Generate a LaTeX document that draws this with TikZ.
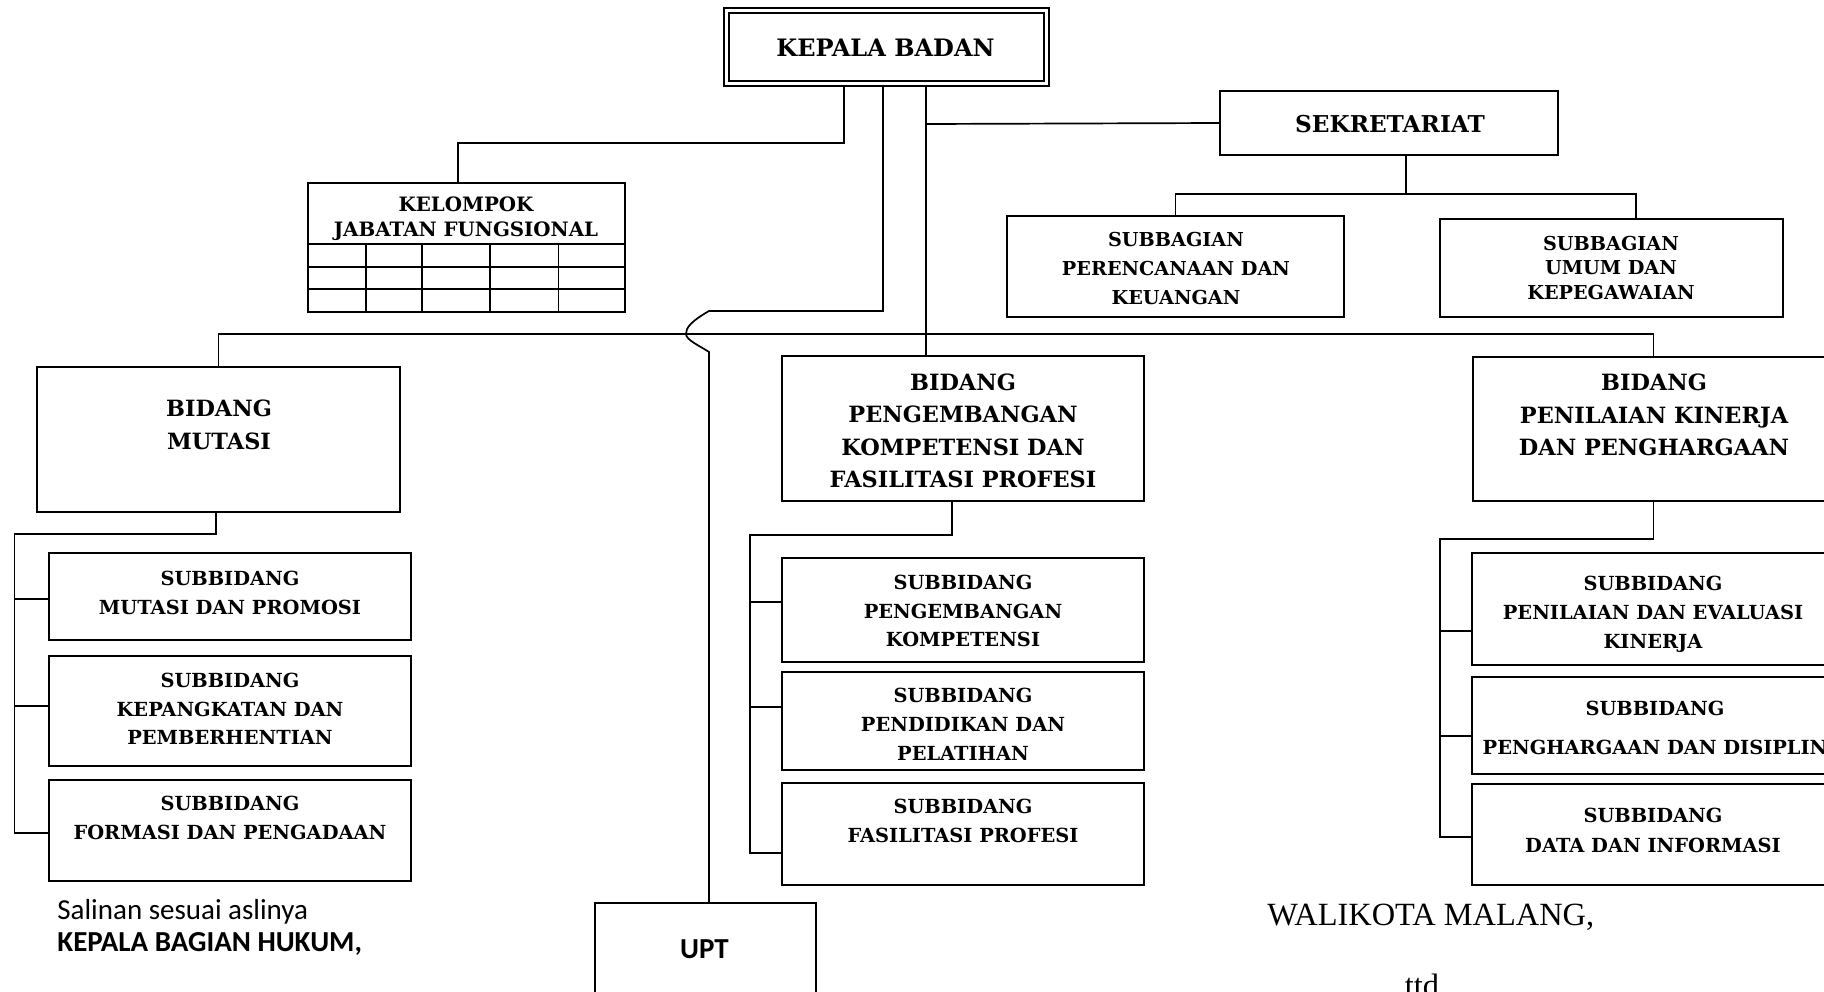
\documentclass[tikz,border=0pt]{standalone}
\usepackage{fontspec}
\setmainfont{DejaVu Serif}
\newfontfamily\calfont{Carlito}
\newfontfamily\walfont{Liberation Serif}
\usetikzlibrary{fit}

\tikzset{
  box/.style={draw, line width=1pt, inner sep=0pt},
  conn/.style={line width=0.85pt},
  lbl/.style={inner sep=0pt, align=center},
  kbtext/.style={lbl, font=\fontsize{12}{14}\selectfont\bfseries},
  sektext/.style={lbl, font=\fontsize{11.6}{14}\selectfont\bfseries},
  bidtext/.style={lbl, font=\fontsize{11.2}{16.2}\selectfont\bfseries},
  bagtext/.style={lbl, font=\fontsize{9.6}{14.5}\selectfont\bfseries},
  subtext/.style={lbl, font=\fontsize{9.7}{14.4}\selectfont\bfseries},
  foot/.style={inner sep=0pt, font=\fontsize{14.5}{17}\selectfont\calfont}
}

\begin{document}
\begin{tikzpicture}[x=0.5pt,y=-0.5pt]
\useasboundingbox (0,0) rectangle (1824,991);
\clip (0,0) rectangle (1824,991);

% kepala badan
\node[box, double, double distance=1.6pt, line width=0.8pt, outer sep=1.6pt,
  fit={(726.5,10.5) (1046.3,83.3)}] (kb) {};
\node[kbtext] (kbt) at (885.5,48) {KEPALA BADAN};

% sekretariat
\node[box, fit={(1220,91) (1558,155)}] (sek) {};
\node[sektext] (sekt) at (1390,124) {SEKRETARIAT};
\node[box, fit={(1007,216) (1344,317)}] (sp) {};
\node[bagtext] (spt) at (1176,269) {SUBBAGIAN\\PERENCANAAN DAN\\KEUANGAN};
\node[box, fit={(1440,219) (1783,317)}] (su) {};
\node[bagtext, font=\fontsize{9.6}{12.25}\selectfont\bfseries] (sut) at (1611,268)
  {SUBBAGIAN\\UMUM DAN\\KEPEGAWAIAN};

% kelompok jabatan fungsional
\node[box, fit={(308,183) (625,312)}] (kjf) {};
\node[bagtext, font=\fontsize{9.9}{12.5}\selectfont\bfseries] (kjft) at (466,218.5)
  {KELOMPOK\\JABATAN FUNGSIONAL};
\foreach \y in {244,267,289} \draw[line width=1pt] (308,\y) -- (625,\y);
\foreach \x in {366,422,490,558.5} \draw[line width=0.8pt] (\x,244) -- (\x,312);

% bidang
\node[box, fit={(37,367) (400,512)}] (bm) {};
\node[bidtext] (bmt) at (219,425) {BIDANG\\MUTASI};
\node[box, fit={(782,356) (1144,501)}] (bp) {};
\node[bidtext] (bpt) at (963,431) {BIDANG\\PENGEMBANGAN\\KOMPETENSI DAN\\FASILITASI PROFESI};
\node[box, fit={(1473,357) (1834,501)}] (bk) {};
\node[bidtext] (bkt) at (1654,415) {BIDANG\\PENILAIAN KINERJA\\DAN PENGHARGAAN};

% subbidang mutasi
\node[box, fit={(49,553) (411,640)}] (m1) {};
\node[subtext] (m1t) at (230,592.7) {SUBBIDANG\\MUTASI DAN PROMOSI};
\node[box, fit={(49,656) (411,766)}] (m2) {};
\node[subtext] (m2t) at (230,708.8) {SUBBIDANG\\KEPANGKATAN DAN\\PEMBERHENTIAN};
\node[box, fit={(49,780) (411,881)}] (m3) {};
\node[subtext] (m3t) at (230,818) {SUBBIDANG\\FORMASI DAN PENGADAAN};

% subbidang pengembangan
\node[box, fit={(782,558) (1144,662)}] (p1) {};
\node[subtext] (p1t) at (963,611) {SUBBIDANG\\PENGEMBANGAN\\KOMPETENSI};
\node[box, fit={(782,672) (1144,770)}] (p2) {};
\node[subtext] (p2t) at (963,724) {SUBBIDANG\\PENDIDIKAN DAN\\PELATIHAN};
\node[box, fit={(782,783) (1144,885)}] (p3) {};
\node[subtext] (p3t) at (963,821) {SUBBIDANG\\FASILITASI PROFESI};

% subbidang penilaian
\node[box, fit={(1472,553) (1834,665)}] (k1) {};
\node[subtext] (k1t) at (1653,614.6) {SUBBIDANG\\PENILAIAN DAN EVALUASI\\KINERJA};
\node[box, fit={(1472,677) (1834,774)}] (k2) {};
\node[subtext, font=\fontsize{9.7}{19.25}\selectfont\bfseries] (k2t) at (1655,728)
  {SUBBIDANG\\PENGHARGAAN DAN DISIPLIN};
\node[box, fit={(1472,784) (1834,885)}] (k3) {};
\node[subtext, font=\fontsize{9.7}{15}\selectfont\bfseries] (k3t) at (1653,830.5)
  {SUBBIDANG\\DATA DAN INFORMASI};

% upt
\node[box, fit={(595,903) (816,1010)}] (upt) {};
\node[foot, font=\fontsize{14.5}{17}\selectfont\calfont\bfseries, anchor=base] (uptt) at (704.5,958) {UPT};

% garis
\draw[conn] (kb.south -| 844,0) |- (458,143) -- (kjf.north -| 458,0);
\draw[conn] (kb.south -| 883,0) |- (709,311)
  .. controls (690,322) and (686,328) .. (686,334)
  .. controls (686,340) and (700,346) .. (709,352) -- (upt.north -| 709,0);
\draw[conn] (kb.south -| 926,0) -- (bp.north -| 926,0);
\draw[conn] (926,124) -- (sek.west);
\draw[conn] (sek.south -| 1406,0) -- (1406,194);
\draw[conn] (sp.north) |- (1636,194) -- (su.north -| 1636,0);
\draw[conn] (bm.north) |- (bk.north |- 0,334) -- (bk.north);

\draw[conn] (bm.south -| 216,0) |- (14.5,534) |- (m3.west |- 0,833);
\foreach \y/\n in {599/m1,706/m2} \draw[conn] (14.5,\y) -- (\n.west |- 0,\y);
\draw[conn] (bp.south -| 952,0) |- (750,535) |- (p3.west |- 0,853);
\foreach \y/\n in {602/p1,707/p2} \draw[conn] (750,\y) -- (\n.west |- 0,\y);
\draw[conn] (bk.south) |- (1440,539) |- (k3.west |- 0,837);
\foreach \y/\n in {631/k1,736/k2} \draw[conn] (1440,\y) -- (\n.west |- 0,\y);

% tanda tangan
\node[foot, anchor=base west] (sal) at (57,919) {Salinan sesuai aslinya};
\node[foot, font=\fontsize{14.5}{17}\selectfont\calfont\bfseries, anchor=base west] (kbh) at (57,951)
  {KEPALA BAGIAN HUKUM,};
\node[inner sep=0pt, font=\fontsize{16.2}{19}\selectfont\walfont, anchor=base west] (wal) at (1267,925)
  {WALIKOTA MALANG,};
\node[inner sep=0pt, font=\fontsize{16.2}{19}\selectfont\walfont, anchor=base] (ttd) at (1422,996) {ttd};

\end{tikzpicture}
\end{document}
